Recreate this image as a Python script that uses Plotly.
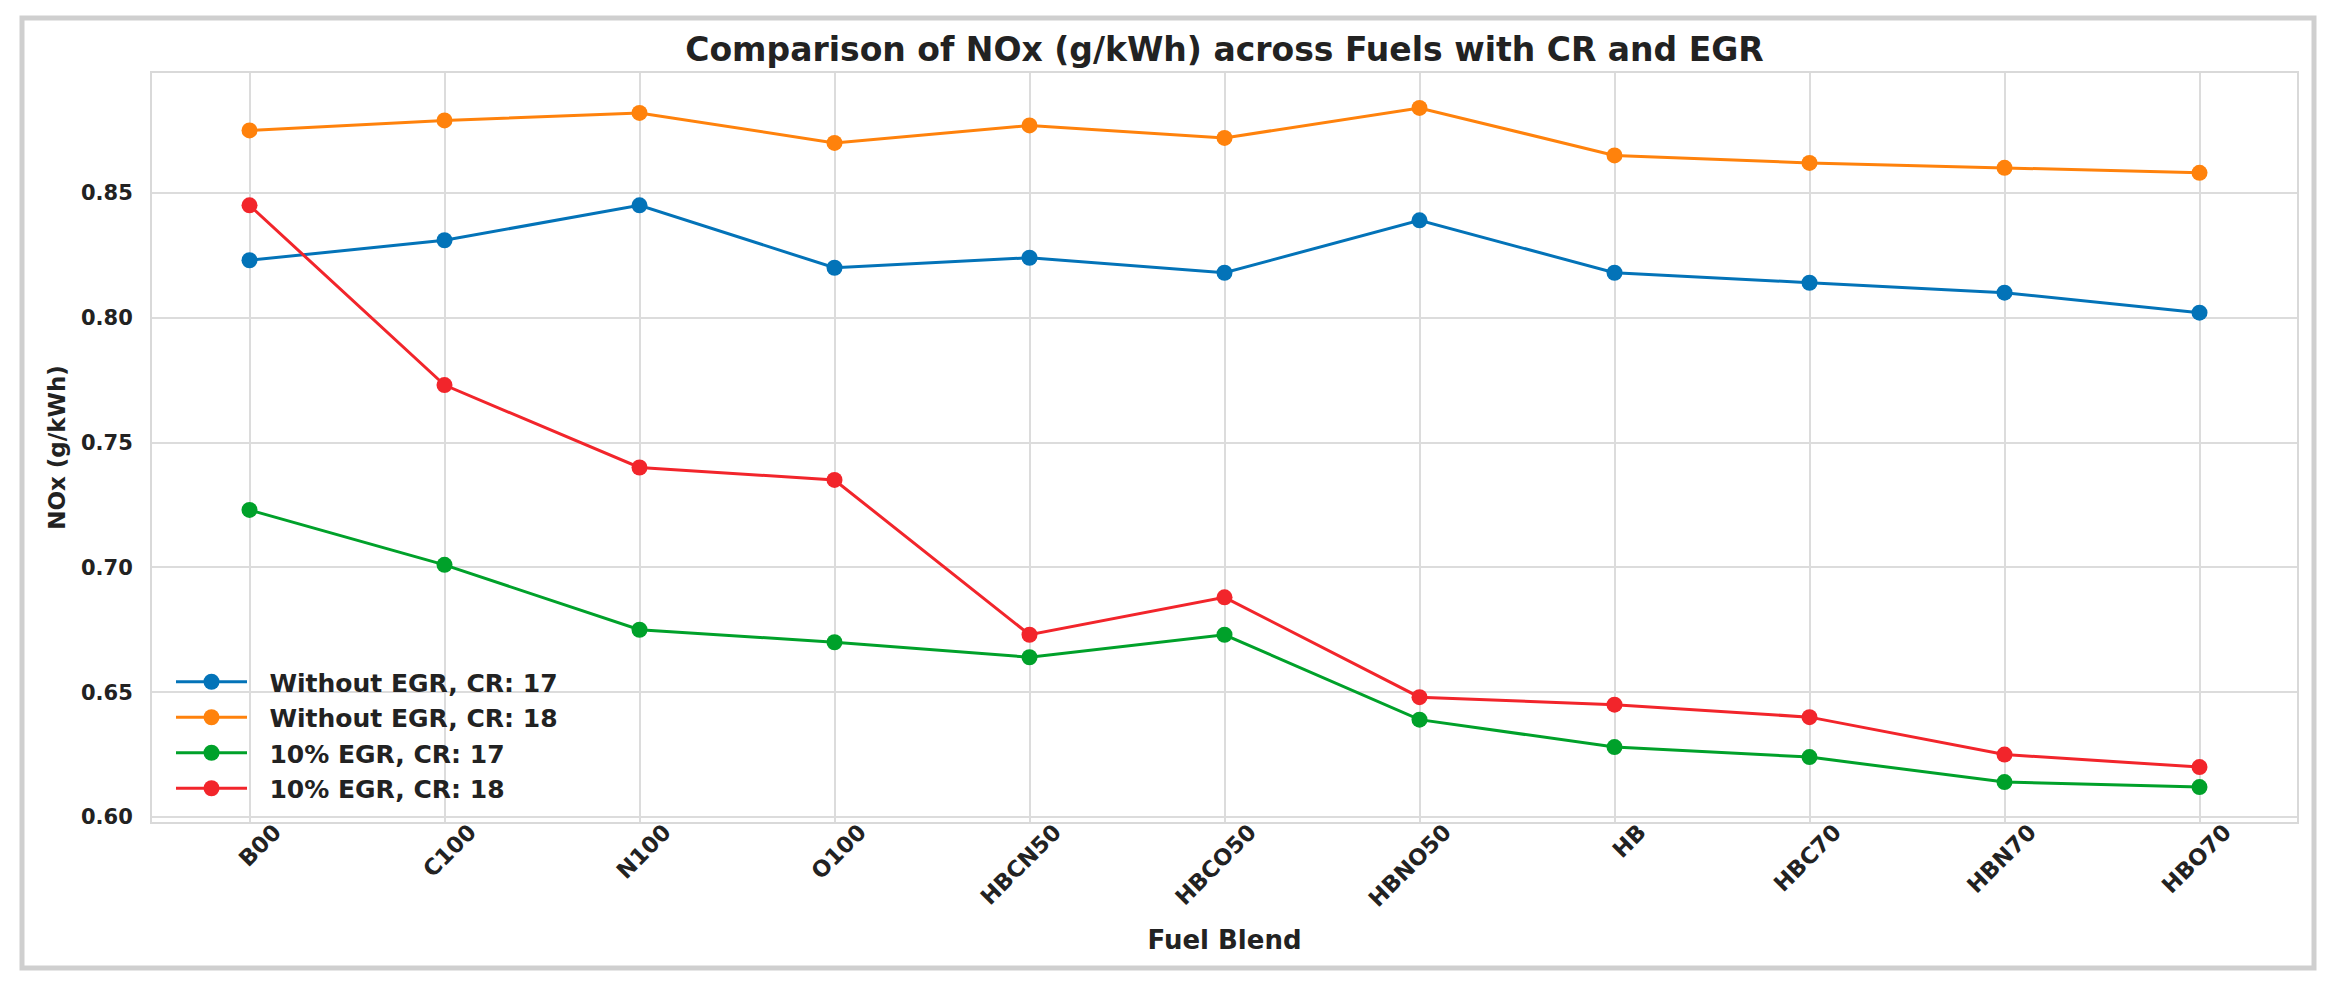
import plotly.graph_objects as go

fuels = ["B00", "C100", "N100", "O100", "HBCN50", "HBCO50", "HBNO50", "HB", "HBC70", "HBN70", "HBO70"]

without_egr_cr17 = [0.823, 0.831, 0.845, 0.820, 0.824, 0.818, 0.839, 0.818, 0.814, 0.810, 0.802]
without_egr_cr18 = [0.875, 0.879, 0.882, 0.870, 0.877, 0.872, 0.884, 0.865, 0.862, 0.860, 0.858]
egr10_cr17 = [0.723, 0.701, 0.675, 0.670, 0.664, 0.673, 0.639, 0.628, 0.624, 0.614, 0.612]
egr10_cr18 = [0.845, 0.773, 0.740, 0.735, 0.673, 0.688, 0.648, 0.645, 0.640, 0.625, 0.620]

series_names = ["Without EGR, CR: 17", "Without EGR, CR: 18", "10% EGR, CR: 17", "10% EGR, CR: 18"]
series_values = [without_egr_cr17, without_egr_cr18, egr10_cr17, egr10_cr18]
colors = ["#0373b8", "#ff820c", "#00a12a", "#f2252b"]

W, H = 2344, 986
L, R, T, B = 152, 2297, 73, 822  # plot area in px
FONT = "DejaVu Sans"
TXT = "#222222"

fig = go.Figure()
for name, vals, col in zip(series_names, series_values, colors):
    fig.add_trace(go.Scatter(
        x=fuels, y=vals, mode="lines+markers",
        name="\u00a0\u00a0" + name,
        line=dict(color=col, width=3),
        marker=dict(color=col, size=16),
    ))

pw, ph = R - L, B - T
def px2x(p):
    return (p - L) / pw
def px2y(p):
    return (B - p) / ph

fig.update_layout(
    width=W, height=H,
    margin=dict(l=L, r=W - R, t=T, b=H - B, autoexpand=False),
    paper_bgcolor="white", plot_bgcolor="white",
    title=dict(
        text="Comparison of NOx (g/kWh) across Fuels with CR and EGR",
        x=0.5 * (L + R) / W, xanchor="center",
        y=1 - 49 / H, yanchor="middle", yref="container",
        font=dict(family=FONT, size=33, color=TXT, weight="bold"),
    ),
    legend=dict(
        x=px2x(171), xanchor="left",
        y=px2y(659), yanchor="top",
        bgcolor="rgba(0,0,0,0)", borderwidth=0,
        font=dict(family=FONT, size=25, color=TXT, weight="bold"),
        itemwidth=71,
    ),
    showlegend=True,
    shapes=[dict(
        type="rect", xref="paper", yref="paper",
        x0=px2x(22), x1=px2x(2314), y0=px2y(968), y1=px2y(18),
        line=dict(color="#cfcfcf", width=5), fillcolor="rgba(0,0,0,0)",
    )],
)

fig.update_xaxes(
    type="category", range=[-0.5, 10.5],
    showgrid=True, gridcolor="#dcdcdc", gridwidth=2,
    showline=True, linecolor="#d9d9d9", linewidth=2, mirror=True,
    ticks="", tickangle=-45, ticklabelshift=25, ticklabelstandoff=-14,
    tickfont=dict(family=FONT, size=22.5, color=TXT, weight="bold"),
    title=dict(text="Fuel Blend", standoff=20,
               font=dict(family=FONT, size=26, color=TXT, weight="bold")),
    zeroline=False,
)
fig.update_yaxes(
    range=[0.598, 0.898], tick0=0.6, dtick=0.05, tickformat=".2f",
    showgrid=True, gridcolor="#dcdcdc", gridwidth=2,
    showline=True, linecolor="#d9d9d9", linewidth=2, mirror=True,
    ticks="", ticklabelstandoff=13,
    tickfont=dict(family=FONT, size=21, color=TXT, weight="bold"),
    title=dict(text="NOx (g/kWh)", standoff=9,
               font=dict(family=FONT, size=23, color=TXT, weight="bold")),
    zeroline=False,
)

fig.write_html("out.html", config={"displayModeBar": False},
               post_script="document.body.style.margin='0px';")
